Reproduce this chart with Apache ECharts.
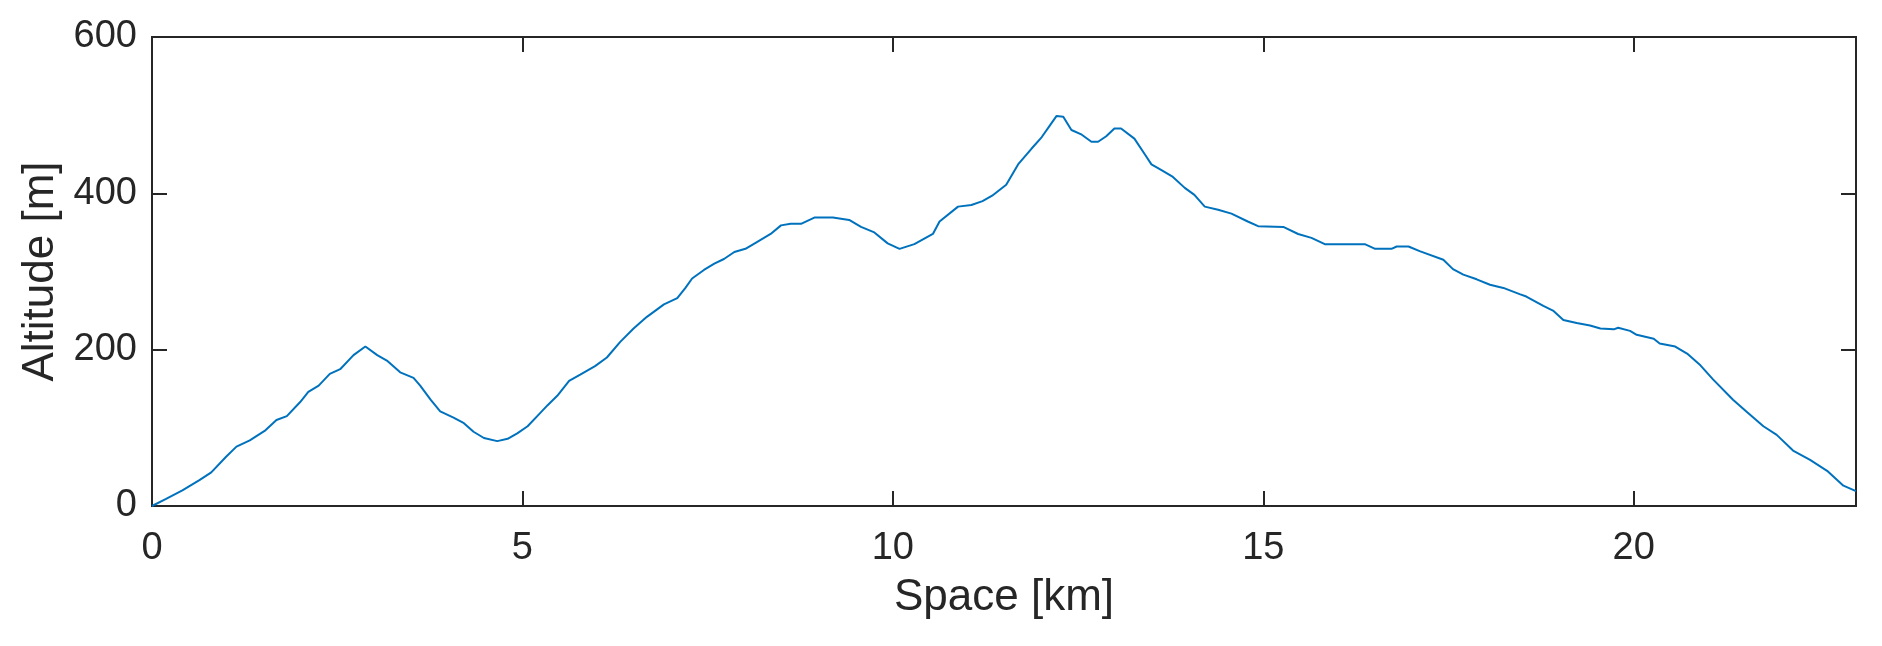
<!DOCTYPE html>
<html style="height: 100%">
<head>
    <meta charset="utf-8">
    <style>
        body { margin: 0; background: #fff; }
    </style>
</head>
<body style="height: 100%;margin: 0">
<div id="chart1" style="width: 1882px; height: 646px;"></div>
<script src="https://cdn.jsdelivr.net/npm/echarts@6/dist/echarts.min.js"></script>
<script type="text/javascript">
// elevation profile
var spaceKm = [0, 0.19, 0.41, 0.64, 0.80, 1.00, 1.14, 1.32, 1.52, 1.68, 1.82, 2.00, 2.11, 2.25, 2.40, 2.54, 2.72, 2.88,
    3.04, 3.17, 3.35, 3.53, 3.62, 3.76, 3.89, 4.07, 4.21, 4.34, 4.48, 4.66, 4.80, 4.93, 5.07, 5.20, 5.34, 5.47, 5.63,
    5.78, 5.98, 6.14, 6.32, 6.50, 6.68, 6.91, 7.09, 7.20, 7.29, 7.45, 7.59, 7.72, 7.86, 8.01, 8.17, 8.35, 8.49, 8.62,
    8.76, 8.94, 9.19, 9.41, 9.57, 9.75, 9.93, 10.09, 10.29, 10.54, 10.63, 10.88, 11.06, 11.21, 11.34, 11.53, 11.69,
    11.87, 12.01, 12.12, 12.21, 12.30, 12.41, 12.55, 12.68, 12.77, 12.88, 12.99, 13.08, 13.26, 13.40, 13.49, 13.62,
    13.78, 13.94, 14.07, 14.21, 14.39, 14.57, 14.79, 14.93, 15.27, 15.47, 15.65, 15.83, 16.37, 16.51, 16.73, 16.80,
    16.96, 17.11, 17.43, 17.56, 17.70, 17.88, 18.06, 18.24, 18.46, 18.55, 18.78, 18.91, 19.05, 19.23, 19.41, 19.55,
    19.73, 19.79, 19.95, 20.04, 20.27, 20.35, 20.56, 20.72, 20.90, 21.07, 21.34, 21.52, 21.75, 21.93, 22.15, 22.38,
    22.61, 22.83, 23.00];
var altitudeM = [0, 9, 20, 33, 43, 63, 76, 84, 96, 110, 115, 133, 146, 154, 169, 175, 193, 204,
    193, 186, 171, 164, 154, 136, 121, 113, 106, 95, 87, 83, 86, 93, 102, 115, 129, 141, 160,
    168, 179, 190, 210, 227, 242, 258, 266, 279, 291, 302, 310, 316, 325, 329, 338, 348, 359, 361,
    361, 369, 369, 366, 357, 350, 336, 329, 335, 348, 364, 383, 385, 390, 397, 411, 437,
    457, 472, 487, 499, 498, 481, 475, 466, 466, 473, 483, 483, 470, 450, 437, 430,
    421, 407, 398, 383, 379, 374, 364, 358, 357, 348, 343, 335, 335, 329, 329, 332,
    332, 326, 315, 303, 296, 290, 283, 279, 271, 268, 256, 250, 238, 234, 231, 227,
    226, 228, 224, 219, 214, 208, 204, 195, 180, 162, 136, 121, 102, 91, 71, 59,
    45, 26, 19];
var xTicks = {min: 0, max: 23, interval: 5};
var yTicks = {min: 0, max: 600, interval: 200};

var ink = '#262626';
var fontName = 'Liberation Sans, Arial, sans-serif';

var profile = spaceKm.map(function (x, i) {
    return [x, altitudeM[i]];
});

// box axes: ticks point inward on all four sides
function boxAxis(pos, ticks, extra) {
    var axis = {
        type: 'value', position: pos,
        min: ticks.min, max: ticks.max, interval: ticks.interval,
        axisLine: {show: false, onZero: false},
        axisTick: {inside: true, length: 15, lineStyle: {color: ink, width: 2}},
        axisLabel: {show: false},
        splitLine: {show: false}
    };
    for (var k in extra) axis[k] = extra[k];
    return axis;
}

var myChart = echarts.init(document.getElementById('chart1'));
var option = {
    animation: false,
    grid: {
        left: 152, right: 26, top: 37, bottom: 140,
        show: true, borderColor: ink, borderWidth: 2, backgroundColor: '#fff'
    },
    xAxis: [
        boxAxis('bottom', xTicks, {
            name: 'Space [km]', nameLocation: 'middle', nameGap: 70,
            nameTextStyle: {fontSize: 44, color: ink, fontFamily: fontName},
            axisLabel: {fontSize: 38, color: ink, fontFamily: fontName, margin: 24, showMaxLabel: false}
        }),
        boxAxis('top', xTicks, {})
    ],
    yAxis: [
        boxAxis('left', yTicks, {
            name: 'Altitude [m]', nameLocation: 'middle', nameGap: 88,
            nameTextStyle: {fontSize: 44, color: ink, fontFamily: fontName},
            axisLabel: {fontSize: 38, color: ink, fontFamily: fontName, margin: 15}
        }),
        boxAxis('right', yTicks, {})
    ],
    series: [
        {
            type: 'line',
            xAxisIndex: 0,
            yAxisIndex: 0,
            data: profile,
            showSymbol: false,
            lineStyle: {color: '#0072BD', width: 2},
            itemStyle: {color: '#0072BD'}
        }
    ]
};
myChart.setOption(option);
</script>
</body>
</html>
